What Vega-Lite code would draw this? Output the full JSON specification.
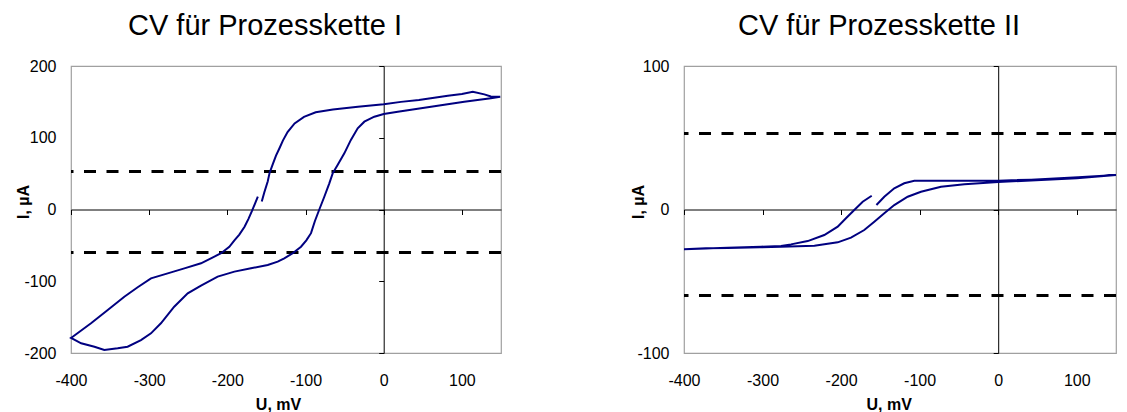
{
  "$schema": "https://vega.github.io/schema/vega-lite/v6.json",
  "padding": {"left": 14, "top": 11, "right": 5, "bottom": 0},
  "background": "white",
  "datasets": {
    "cv1": [
      {"o":1,"U":-156,"I":11},{"o":2,"U":-152.7,"I":24},{"o":3,"U":-148.4,"I":39},{"o":4,"U":-146,"I":51},
      {"o":5,"U":-142,"I":63},{"o":6,"U":-137.8,"I":75},{"o":7,"U":-133.5,"I":85},{"o":8,"U":-129,"I":96},
      {"o":9,"U":-123,"I":108},{"o":10,"U":-114,"I":120},{"o":11,"U":-102,"I":129},{"o":12,"U":-87,"I":135.5},
      {"o":13,"U":-65,"I":139.5},{"o":14,"U":-33,"I":143.3},{"o":15,"U":0,"I":146.6},{"o":16,"U":22,"I":150},
      {"o":17,"U":45,"I":152.6},{"o":18,"U":82,"I":158.5},{"o":19,"U":100,"I":161},{"o":20,"U":114,"I":164},
      {"o":21,"U":128.7,"I":160.5},{"o":22,"U":137,"I":157.5},{"o":23,"U":149,"I":157.2},{"o":24,"U":137,"I":155},
      {"o":25,"U":103,"I":150.3},{"o":26,"U":60.5,"I":143.3},{"o":27,"U":18,"I":136.3},{"o":28,"U":0,"I":133},
      {"o":29,"U":-12,"I":129.3},{"o":30,"U":-24.8,"I":122.4},{"o":31,"U":-33.3,"I":113.2},{"o":32,"U":-42,"I":97},
      {"o":33,"U":-50.4,"I":78.3},{"o":34,"U":-59,"I":62},{"o":35,"U":-65.3,"I":50.4},{"o":36,"U":-69.6,"I":36.5},
      {"o":37,"U":-76,"I":17.8},{"o":38,"U":-82.4,"I":0},{"o":39,"U":-88,"I":-16},{"o":40,"U":-93,"I":-33},
      {"o":41,"U":-99,"I":-43},{"o":42,"U":-105.8,"I":-51.8},{"o":43,"U":-116.4,"I":-61},{"o":44,"U":-127.2,"I":-68},
      {"o":45,"U":-135.6,"I":-72.7},{"o":46,"U":-148.4,"I":-77.3},{"o":47,"U":-169.8,"I":-82},{"o":48,"U":-191,"I":-86.6},
      {"o":49,"U":-212.4,"I":-93.6},{"o":50,"U":-233.7,"I":-106},{"o":51,"U":-250.7,"I":-116.8},{"o":52,"U":-268,"I":-135.5},
      {"o":53,"U":-285,"I":-158.6},{"o":54,"U":-297.7,"I":-172.6},{"o":55,"U":-310.5,"I":-182},{"o":56,"U":-327.6,"I":-191.2},
      {"o":57,"U":-340.3,"I":-193.5},{"o":58,"U":-357.4,"I":-195.8},{"o":59,"U":-370,"I":-191.2},{"o":60,"U":-387,"I":-186.5},
      {"o":61,"U":-400,"I":-179},{"o":62,"U":-397.8,"I":-177.3},{"o":63,"U":-374.4,"I":-158.6},{"o":64,"U":-353,"I":-140},
      {"o":65,"U":-331.8,"I":-121.5},{"o":66,"U":-314.7,"I":-108.4},{"o":67,"U":-297.7,"I":-96},{"o":68,"U":-276.3,"I":-89},
      {"o":69,"U":-255,"I":-82},{"o":70,"U":-233.7,"I":-75},{"o":71,"U":-221,"I":-68},{"o":72,"U":-208,"I":-61},
      {"o":73,"U":-197.5,"I":-52},{"o":74,"U":-191,"I":-43},{"o":75,"U":-184.7,"I":-35},{"o":76,"U":-178,"I":-24},
      {"o":77,"U":-173,"I":-13},{"o":78,"U":-168.5,"I":-2},{"o":79,"U":-164,"I":10},{"o":80,"U":-161,"I":18}
    ],
    "cv2": [
      {"o":1,"U":-155,"I":3.1},{"o":2,"U":-145,"I":8.9},{"o":3,"U":-132.3,"I":14.8},{"o":4,"U":-119.6,"I":18.3},
      {"o":5,"U":-106.8,"I":20.1},{"o":6,"U":-64.4,"I":20.1},{"o":7,"U":0,"I":20.1},{"o":8,"U":42,"I":20.8},
      {"o":9,"U":101.8,"I":22.4},{"o":10,"U":150,"I":24},{"o":11,"U":100,"I":21.7},{"o":12,"U":0,"I":19.2},
      {"o":13,"U":-43,"I":17.6},{"o":14,"U":-72.8,"I":15.9},{"o":15,"U":-98.3,"I":12.4},{"o":16,"U":-115.2,"I":8.9},
      {"o":17,"U":-132.3,"I":3.1},{"o":18,"U":-145,"I":-2.6},{"o":19,"U":-157.7,"I":-8.5},{"o":20,"U":-170.5,"I":-14.3},
      {"o":21,"U":-187.4,"I":-19.6},{"o":22,"U":-204.3,"I":-22.9},{"o":23,"U":-234,"I":-25.2},{"o":24,"U":-276.5,"I":-25.9},
      {"o":25,"U":-303.4,"I":-26.3},{"o":26,"U":-344,"I":-26.8},{"o":27,"U":-372,"I":-27},{"o":28,"U":-400,"I":-27.7},
      {"o":29,"U":-344.4,"I":-26.6},{"o":30,"U":-302,"I":-25.9},{"o":31,"U":-276.5,"I":-25.4},{"o":32,"U":-263.8,"I":-24.3},
      {"o":33,"U":-242.5,"I":-22},{"o":34,"U":-221.4,"I":-17.8},{"o":35,"U":-204.3,"I":-12},{"o":36,"U":-193.8,"I":-6.1},
      {"o":37,"U":-183.2,"I":-0.3},{"o":38,"U":-172.5,"I":5.4},{"o":39,"U":-161,"I":9.6}
    ],
    "ref": [{"I":53},{"I":-60}]
  },
  "config": {
    "view": {"stroke": "#a0a0a0", "strokeWidth": 1.2},
    "font": "Liberation Sans",
    "axis": {
      "grid": false,
      "labelFont": "Liberation Sans", "labelFontSize": 16, "labelColor": "#000",
      "labelExpr": "toString(datum.value)",
      "titleFont": "Liberation Sans", "titleFontSize": 16, "titleFontWeight": "bold", "titleColor": "#000"
    },
    "title": {"font": "Liberation Sans", "fontSize": 29, "fontWeight": "normal", "color": "#000",
      "anchor": "middle", "frame": "group", "baseline": "alphabetic", "offset": 17}
  },
  "spacing": 183,
  "bounds": "flush",
  "hconcat": [
    {
      "width": 430, "height": 287,
      "title": {"text": "CV für Prozesskette I", "dx": -21},
      "resolve": {"axis": {"x": "independent", "y": "independent"}},
      "layer": [
        {
          "data": {"name": "cv1"},
          "mark": {"type": "line", "strokeOpacity": 0},
          "encoding": {
            "x": {"field": "U", "type": "quantitative", "scale": {"domain": [-400, 150], "nice": false, "zero": false},
              "axis": {"orient": "bottom", "offset": -143.5, "values": [-400, -300, -200, -100, 0, 100], "labels": false,
                "ticks": true, "tickSize": 5, "tickColor": "#000", "tickWidth": 1, "domain": true, "domainColor": "#000", "domainWidth": 1, "title": null}},
            "y": {"field": "I", "type": "quantitative", "scale": {"domain": [-200, 200], "nice": false},
              "axis": {"orient": "left", "offset": -312.7, "values": [-200, -100, 0, 100, 200], "labels": false,
                "ticks": true, "tickSize": 5, "tickColor": "#000", "tickWidth": 1, "domain": true, "domainColor": "#000", "domainWidth": 1, "title": null}},
            "order": {"field": "o", "type": "quantitative"}
          }
        },
        {
          "data": {"name": "ref"},
          "mark": {"type": "rule", "color": "#000", "strokeWidth": 3, "strokeDash": [12, 10.5]},
          "encoding": {"y": {"field": "I", "type": "quantitative", "axis": null}}
        },
        {
          "data": {"name": "cv1"},
          "mark": {"type": "line", "color": "#000080", "strokeWidth": 2},
          "encoding": {
            "x": {"field": "U", "type": "quantitative",
              "axis": {"orient": "bottom", "values": [-400, -300, -200, -100, 0, 100], "domain": false, "ticks": false, "tickSize": 0,
                "labelPadding": 19, "labelFlush": false, "labelOverlap": false,
                "title": "U, mV", "titleX": 207, "titleY": 56.5, "titleBaseline": "alphabetic"}},
            "y": {"field": "I", "type": "quantitative",
              "axis": {"orient": "left", "values": [-200, -100, 0, 100, 200], "domain": false, "ticks": false, "tickSize": 0,
                "labelPadding": 15, "labelFlush": false, "labelOverlap": false,
                "title": "I, µA", "titleX": -48, "titleY": 135.5, "titleBaseline": "middle", "titleAngle": 270}},
            "order": {"field": "o", "type": "quantitative"}
          }
        }
      ]
    },
    {
      "width": 432, "height": 287,
      "title": {"text": "CV für Prozesskette II", "dx": -21},
      "resolve": {"axis": {"x": "independent", "y": "independent"}},
      "layer": [
        {
          "data": {"name": "cv2"},
          "mark": {"type": "line", "strokeOpacity": 0},
          "encoding": {
            "x": {"field": "U", "type": "quantitative", "scale": {"domain": [-400, 150], "nice": false, "zero": false},
              "axis": {"orient": "bottom", "offset": -143.5, "values": [-400, -300, -200, -100, 0, 100], "labels": false,
                "ticks": true, "tickSize": 5, "tickColor": "#000", "tickWidth": 1, "domain": true, "domainColor": "#000", "domainWidth": 1, "title": null}},
            "y": {"field": "I", "type": "quantitative", "scale": {"domain": [-100, 100], "nice": false},
              "axis": {"orient": "left", "offset": -314.2, "values": [-100, 0, 100], "labels": false,
                "ticks": true, "tickSize": 5, "tickColor": "#000", "tickWidth": 1, "domain": true, "domainColor": "#000", "domainWidth": 1, "title": null}},
            "order": {"field": "o", "type": "quantitative"}
          }
        },
        {
          "data": {"name": "ref"},
          "mark": {"type": "rule", "color": "#000", "strokeWidth": 3, "strokeDash": [12, 10.5]},
          "encoding": {"y": {"field": "I", "type": "quantitative", "axis": null}}
        },
        {
          "data": {"name": "cv2"},
          "mark": {"type": "line", "color": "#000080", "strokeWidth": 2},
          "encoding": {
            "x": {"field": "U", "type": "quantitative",
              "axis": {"orient": "bottom", "values": [-400, -300, -200, -100, 0, 100], "domain": false, "ticks": false, "tickSize": 0,
                "labelPadding": 19, "labelFlush": false, "labelOverlap": false,
                "title": "U, mV", "titleX": 204.7, "titleY": 56.5, "titleBaseline": "alphabetic"}},
            "y": {"field": "I", "type": "quantitative",
              "axis": {"orient": "left", "values": [-100, 0, 100], "domain": false, "ticks": false, "tickSize": 0,
                "labelPadding": 15, "labelFlush": false, "labelOverlap": false,
                "title": "I, µA", "titleX": -46, "titleY": 135.5, "titleBaseline": "middle", "titleAngle": 270}},
            "order": {"field": "o", "type": "quantitative"}
          }
        }
      ]
    }
  ]
}
